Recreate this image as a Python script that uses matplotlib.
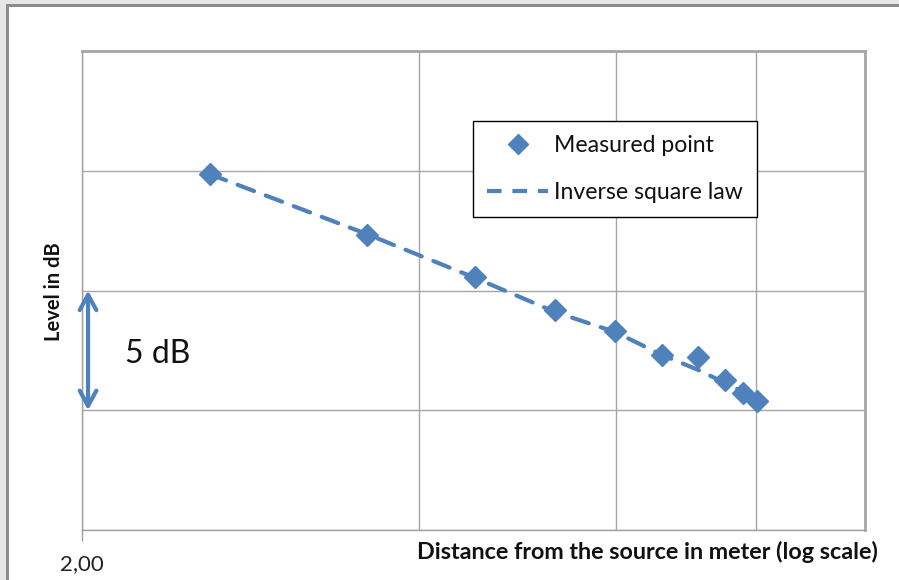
import matplotlib
matplotlib.use("Agg")
import matplotlib.pyplot as plt
from matplotlib.patches import Rectangle
from matplotlib.lines import Line2D
from matplotlib.ticker import FixedLocator, NullFormatter

# ---- data ----
distance_m = [2.60, 3.59, 4.49, 5.29, 5.98, 6.59, 7.10, 7.50, 7.79, 8.01]
measured_db = [14.86, 12.32, 10.56, 9.19, 8.31, 7.31, 7.22, 6.26, 5.72, 5.39]
law_db = [14.86, 12.36, 10.52, 9.10, 8.27, 7.31, 6.68, 6.14, 5.76, 5.39]
x_major_ticks = [2]
x_major_labels = ["2,00"]
x_grid_ticks = [4, 6, 8, 10]
y_ticks = [0, 5, 10, 15, 20]
arrow_x = 2.025
arrow_y = [10, 5]

BLUE = "#4F81BD"
FONT = ["Lato", "DejaVu Sans"]
plt.rcParams["font.family"] = FONT

W, H = 899, 580
fig = plt.figure(figsize=(W / 100, H / 100), dpi=100)

# outer frame (grey band + dark edge)
fig.patches.append(Rectangle((0, 0), 1, 1, transform=fig.transFigure,
                             facecolor="#e6e6e6", edgecolor="none", zorder=-3))
fig.patches.append(Rectangle((6 / W, 0), 1, 1 - 4 / H, transform=fig.transFigure,
                             facecolor="#8c8c8c", edgecolor="none", zorder=-2))
fig.patches.append(Rectangle((8.5 / W, 0), 1, 1 - 7 / H, transform=fig.transFigure,
                             facecolor="white", edgecolor="none", zorder=-1))

left, right, top, bottom = 82, 865, 51, 530
ax = fig.add_axes([left / W, 1 - bottom / H, (right - left) / W, (bottom - top) / H])
ax.set_xscale("log")
ax.set_xlim(2, 10)
ax.set_ylim(0, 20)
ax.set_facecolor("white")

ax.xaxis.set_major_locator(FixedLocator(x_major_ticks))
ax.set_xticklabels(x_major_labels)
ax.xaxis.set_minor_locator(FixedLocator(x_grid_ticks))
ax.xaxis.set_minor_formatter(NullFormatter())
ax.set_yticks(y_ticks)
ax.set_yticklabels([])
ax.tick_params(axis="y", length=0)
ax.tick_params(axis="x", which="major", length=8, width=1, color="#a0a0a0",
               labelsize=16, pad=9.5)
ax.tick_params(axis="x", which="minor", length=0)
for lbl in ax.get_xticklabels():
    lbl.set_color("#222222")

ax.grid(True, which="both", color="#a6a6a6", linewidth=1)
ax.set_axisbelow(True)
for s in ["left", "bottom"]:
    ax.spines[s].set_color("#a0a0a0")
    ax.spines[s].set_linewidth(1)
for s in ["top", "right"]:
    ax.spines[s].set_color("#a6a6a6")
    ax.spines[s].set_linewidth(2)

ax.plot(distance_m, law_db, linestyle=(0, (4.2, 3.0)), color=BLUE, linewidth=3.0,
        label="Inverse square law", zorder=3, dash_capstyle="round")
ax.plot(distance_m, measured_db, linestyle="none", marker="D", markersize=11,
        color=BLUE, markeredgecolor=BLUE, label="Measured point", zorder=4)

# 5 dB arrow
ax.annotate("", xy=(arrow_x, arrow_y[1]), xytext=(arrow_x, arrow_y[0]),
            arrowprops=dict(arrowstyle="<->,head_length=1.1,head_width=0.6",
                            color=BLUE, linewidth=3, shrinkA=0, shrinkB=0))
ax.text(2.185, 7.35, "5 dB", fontsize=23, va="center", ha="left", color="#111111")

# legend
handles = [Line2D([], [], linestyle="none", marker="D", markersize=10, color=BLUE),
           Line2D([], [], linestyle=(0, (3.5, 2.6)), linewidth=3, color=BLUE)]
leg = ax.legend(handles, ["Measured point", "Inverse square law"],
                loc="upper left",
                bbox_to_anchor=(473 / W, 1 - 121 / H), bbox_transform=fig.transFigure,
                fontsize=16.6, frameon=True, fancybox=False, framealpha=1,
                edgecolor="black", borderpad=0.62, labelspacing=1.12,
                handlelength=2.65, handletextpad=0.25, borderaxespad=0)
leg.get_frame().set_linewidth(1.0)
for t in leg.get_texts():
    t.set_color("#111111")

# axis labels
fig.text(54 / W, 1 - 292 / H, "Level in dB", rotation=90, fontsize=14.5,
         fontweight="bold", ha="center", va="center", color="#111111")
fig.text(878 / W, 1 - 552 / H, "Distance from the source in meter (log scale)",
         fontsize=16.8, fontweight="bold", ha="right", va="center", color="#111111")

fig.savefig("out.png", dpi=100)
